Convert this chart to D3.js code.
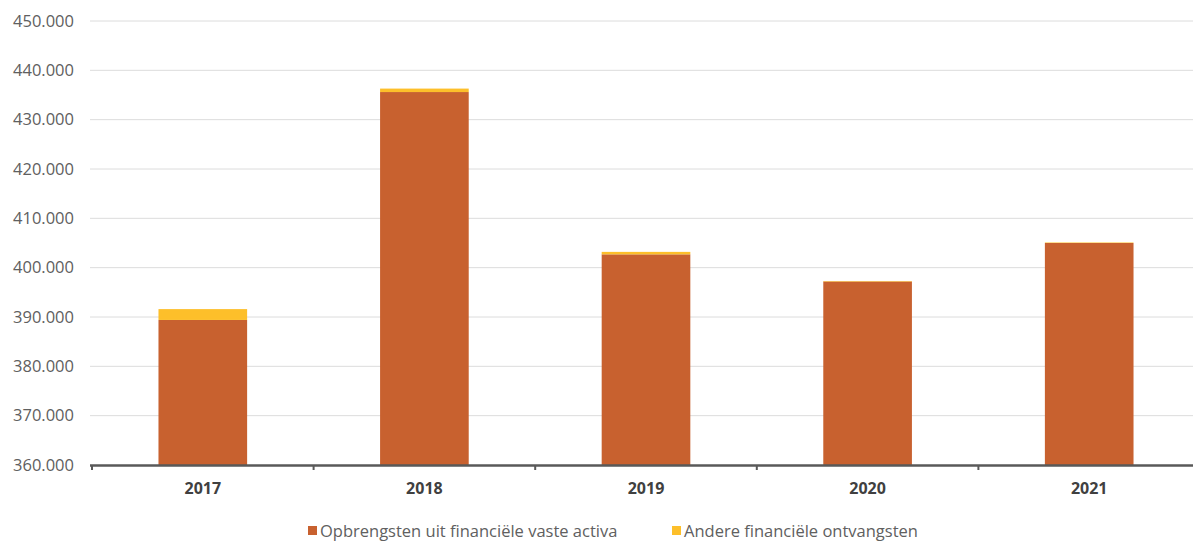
<!DOCTYPE html>
<html><head><meta charset="utf-8">
<script src="https://cdn.jsdelivr.net/npm/d3@7"></script>
<style>body{margin:0;background:#fff;}svg{display:block;}</style>
</head><body><svg id="c" width="1193" height="541"></svg>
<script>
const categories = ["2017","2018","2019","2020","2021"];
const seriesNames = ["Opbrengsten uit financiële vaste activa","Andere financiële ontvangsten"];
const opbrengsten = [389400, 435600, 402700, 397200, 405000];
const andere = [2200, 700, 500, 100, 100];
const yTicks = [360000,370000,380000,390000,400000,410000,420000,430000,440000,450000];
const colors = ["#C8612F","#FDBF2A"];

const svg = d3.select("#c");
const x = d3.scaleBand().domain(categories).range([92,1200]).paddingInner(0.6).paddingOuter(0.3);
const y = d3.scaleLinear().domain([360000,450000]).range([465,21]);
const fmt = d => d3.format(",")(d).replace(/,/g,".");

// gridlines
svg.append("g").selectAll("line").data(yTicks.slice(1)).join("line")
  .attr("x1",90).attr("x2",1193).attr("y1",d=>y(d)).attr("y2",d=>y(d))
  .attr("stroke","#dcdcdc").attr("stroke-width",1);

// y labels
const yAxis = d3.axisLeft(y).tickValues(yTicks).tickFormat(fmt).tickSize(0).tickPadding(0);
const ya = svg.append("g").attr("transform","translate(74,0)").call(yAxis);
ya.select(".domain").remove();
ya.selectAll("text").attr("font-family","'Open Sans',sans-serif").attr("font-size",16.5).attr("fill","#606060");

// stacked bars
const rows = categories.map((c,i)=>({cat:c, a:opbrengsten[i], b:andere[i]}));
const stack = d3.stack().keys(["a","b"]).value((d,k)=>k==="a"?d.a-360000:d.b)(rows);
svg.append("g").selectAll("g").data(stack).join("g").attr("fill",(d,i)=>colors[i])
  .selectAll("rect").data(d=>d).join("rect")
  .attr("x",d=>x(d.data.cat)).attr("width",x.bandwidth())
  .attr("y",d=>y(d[1]+360000)).attr("height",d=>y(d[0]+360000)-y(d[1]+360000));

// x axis
const xa = svg.append("g").attr("transform","translate(0,465)")
  .call(d3.axisBottom(x).tickSize(0).tickPadding(18));
xa.select(".domain").remove();
svg.append("line").attr("x1",90).attr("x2",1193).attr("y1",465.5).attr("y2",465.5)
  .attr("stroke","#595959").attr("stroke-width",2.5);
const step = x.step();
svg.append("g").selectAll("line").data(d3.range(categories.length)).join("line")
  .attr("x1",(d,i)=>x(categories[i])-(step-x.bandwidth())/2).attr("x2",(d,i)=>x(categories[i])-(step-x.bandwidth())/2)
  .attr("y1",465).attr("y2",470).attr("stroke","#595959").attr("stroke-width",2);
xa.selectAll("text").attr("font-family","'Open Sans',sans-serif").attr("font-size",16)
  .attr("font-weight","bold").attr("fill","#404040");

// legend
const leg = svg.append("g");
const lx = [308, 672];
seriesNames.forEach((n,i)=>{
  leg.append("rect").attr("x",lx[i]).attr("y",526).attr("width",9).attr("height",9).attr("fill",colors[i]);
  leg.append("text").attr("x",lx[i]+12).attr("y",536.5).text(n)
    .attr("font-family","'Open Sans',sans-serif").attr("font-size",16.5).attr("fill","#606060");
});
</script></body></html>
